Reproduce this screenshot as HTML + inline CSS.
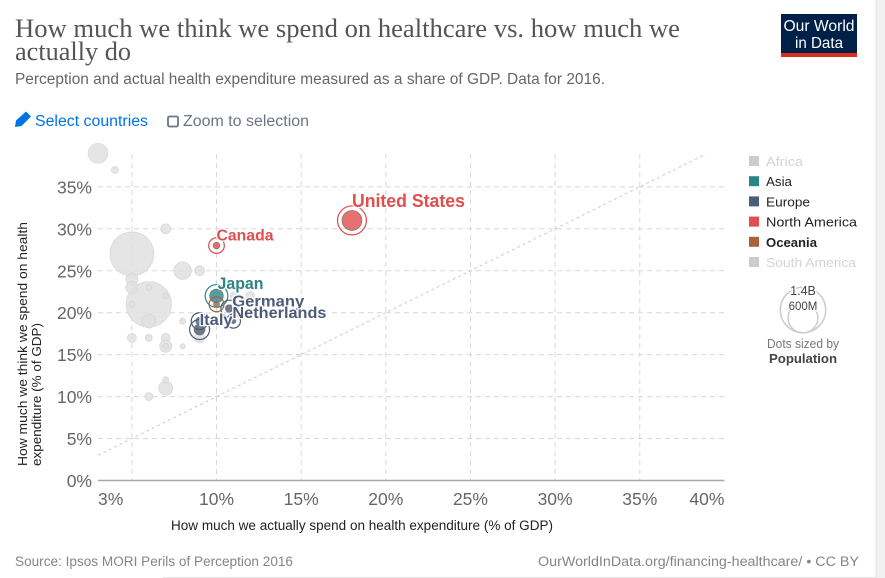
<!DOCTYPE html>
<html lang="en">
<head>
<meta charset="utf-8">
<title>How much we think we spend on healthcare vs. how much we actually do</title>
<style>
html,body{margin:0;padding:0;background:#fff;width:885px;height:578px;overflow:hidden}
svg{display:block;font-family:"Liberation Sans",sans-serif}
</style>
</head>
<body>
<svg id="chart" width="885" height="578" viewBox="0 0 885 578" xmlns="http://www.w3.org/2000/svg">
  <rect x="877" y="0" width="8" height="578" fill="#f1f1f1"/>
  <rect x="875.5" y="0" width="1.5" height="578" fill="#e6e6e6"/>
  <rect x="163" y="577" width="714" height="1" fill="#e6e6e6"/>

  <text x="15" y="37" font-family="'Liberation Serif',serif" font-size="26" fill="#555" textLength="665" lengthAdjust="spacingAndGlyphs">How much we think we spend on healthcare vs. how much we</text>
  <text x="15" y="60" font-family="'Liberation Serif',serif" font-size="26" fill="#555" textLength="116" lengthAdjust="spacingAndGlyphs">actually do</text>
  <text x="15" y="84" font-size="15.5" fill="#666" textLength="590" lengthAdjust="spacingAndGlyphs">Perception and actual health expenditure measured as a share of GDP. Data for 2016.</text>

  <g>
    <rect x="781" y="14" width="76" height="43" fill="#002147"/>
    <rect x="781" y="53" width="76" height="4" fill="#dc2e1c"/>
    <text x="819" y="31" font-size="16" fill="#fff" text-anchor="middle" textLength="71" lengthAdjust="spacingAndGlyphs">Our World</text>
    <text x="819" y="48" font-size="16" fill="#fff" text-anchor="middle" textLength="48" lengthAdjust="spacingAndGlyphs">in Data</text>
  </g>

  <g>
    <path d="M15 127 L16 120.5 L26 111.5 L31 116.5 L21.5 126 Z" fill="#0073e6"/>
    <text x="35" y="126" font-size="15.5" fill="#0073e6" textLength="113" lengthAdjust="spacingAndGlyphs">Select countries</text>
  </g>
  <g>
    <rect x="168" y="116.5" width="10" height="10" rx="1.5" fill="#fff" stroke="#6e7581" stroke-width="1.8"/>
    <text x="183" y="126" font-size="15.5" fill="#6e7581" textLength="126" lengthAdjust="spacingAndGlyphs">Zoom to selection</text>
  </g>

  <g id="grid"></g>
  <g id="axes"></g>
  <g id="marks"></g>
  <g id="labels"></g>
  <g id="legend"></g>

  <text transform="translate(27,466) rotate(-90)" font-size="13" fill="#222" textLength="244" lengthAdjust="spacingAndGlyphs">How much we think we spend on health</text>
  <text transform="translate(41,466) rotate(-90)" font-size="13" fill="#222" textLength="143" lengthAdjust="spacingAndGlyphs">expenditure (% of GDP)</text>
  <text x="171" y="530" font-size="13.5" fill="#222" textLength="382" lengthAdjust="spacingAndGlyphs">How much we actually spend on health expenditure (% of GDP)</text>

  <g>
    <circle cx="803" cy="310" r="22.7" fill="none" stroke="#ccc" stroke-width="1.5"/>
    <circle cx="803" cy="318" r="14.9" fill="none" stroke="#ccc" stroke-width="1.5"/>
    <text x="803" y="295" font-size="12.5" fill="#444" text-anchor="middle" stroke="#fff" stroke-width="3" paint-order="stroke">1.4B</text>
    <text x="803" y="310" font-size="11.5" fill="#444" text-anchor="middle" stroke="#fff" stroke-width="3" paint-order="stroke">600M</text>
    <text x="803" y="348" font-size="12.5" fill="#777" text-anchor="middle" textLength="72" lengthAdjust="spacingAndGlyphs">Dots sized by</text>
    <text x="803" y="363" font-size="13" font-weight="bold" fill="#444" text-anchor="middle" textLength="68" lengthAdjust="spacingAndGlyphs">Population</text>
  </g>

  <text x="15" y="566" font-size="13.5" fill="#858585" textLength="278" lengthAdjust="spacingAndGlyphs">Source: Ipsos MORI Perils of Perception 2016</text>
  <text x="538" y="566" font-size="13.5" fill="#858585" textLength="321" lengthAdjust="spacingAndGlyphs">OurWorldInData.org/financing-healthcare/ • CC BY</text>
</svg>
<script>
var xTickValues = [3, 5, 10, 15, 20, 25, 30, 35, 40];
var xTickLabels = ["3%", "", "10%", "15%", "20%", "25%", "30%", "35%", "40%"];
var yTickValues = [0, 5, 10, 15, 20, 25, 30, 35];
var yTickLabels = ["0%", "5%", "10%", "15%", "20%", "25%", "30%", "35%"];

var countryNames = ["", "", "", "", "", "", "", "", "", "", "", "", "", "", "", "", "", "", "", "", "", "", "", "", "", "", "", "Japan", "Germany", "Italy", "", "Netherlands", "Australia", "Canada", "United States"];
var continents = ["o","o","o","o","o","o","o","o","o","o","o","o","o","o","o","o","o","o","o","o","o","o","o","o","o","o","o","Asia","Europe","Europe","Europe","Europe","Oceania","North America","North America"];
var spendActual = [6, 5, 3, 8, 7, 9, 5, 5, 6, 7, 6, 5, 4, 8, 5, 6, 7, 7, 7, 8, 9, 9, 7, 7, 6, 11, 12, 10, 10.75, 9, 9, 11, 10, 10, 18];
var spendPerceived = [21, 27, 39, 25, 30, 25, 24, 23, 23, 22, 19, 21, 37, 19, 17, 17, 17, 16, 16, 16, 17, 18, 11, 12, 10, 22, 22, 22, 20.5, 19, 18, 19, 21, 28, 31];
var populations = [1400, 1310, 265, 208, 68, 68, 98, 98, 25, 25, 133, 25, 33, 25, 55, 33, 55, 98, 25, 17, 68, 68, 133, 25, 43, 33, 55, 127, 40, 40, 82, 17, 24, 30, 270];

var legendLabels = ["Africa", "Asia", "Europe", "North America", "Oceania", "South America"];

var svgNS = "http://www.w3.org/2000/svg";
var plotLeft = 98, plotRight = 724.4, plotBottom = 480.5;
var xMin = 3, xMax = 40, yMin = 0, yPerPercent = 8.39;
var colors = {"Africa":"#cccccc","Asia":"#2c8587","Europe":"#4c5c78","North America":"#e04e4e","Oceania":"#a8623c","South America":"#cccccc"};

function xScale(v){ return plotLeft + (v - xMin) * (plotRight - plotLeft) / (xMax - xMin); }
function yScale(v){ return plotBottom - (v - yMin) * yPerPercent; }
function rScale(p){ return 22.7 * Math.sqrt(p / 1400); }
function make(tag, attrs, parent){
  var el = document.createElementNS(svgNS, tag);
  for (var k in attrs) el.setAttribute(k, attrs[k]);
  parent.appendChild(el);
  return el;
}

var grid = document.getElementById("grid");
var axes = document.getElementById("axes");
var marks = document.getElementById("marks");
var labels = document.getElementById("labels");
var legend = document.getElementById("legend");
var plotTop = yScale(38.9);

yTickValues.forEach(function(v, i){
  if (v !== 0) {
    var g = make("line", {x1: plotLeft, x2: plotRight, y1: yScale(v), y2: yScale(v), stroke: "#d8d8d8", "stroke-dasharray": "5,4"}, grid);
    
    
  }
  var t = make("text", {x: 92, y: yScale(v) + 6.5, "text-anchor": "end", "font-size": 17.5, fill: "#666"}, axes);
  
  
  t.textContent = yTickLabels[i];
});

xTickValues.forEach(function(v, i){
  if (v !== xMin && v !== xMax) {
    var g = make("line", {x1: xScale(v), x2: xScale(v), y1: plotTop, y2: plotBottom, stroke: "#d8d8d8", "stroke-dasharray": "5,4"}, grid);
    
    
  }
  if (xTickLabels[i]) {
    var anchor = v === xMin ? "start" : (v === xMax ? "end" : "middle");
    var t = make("text", {x: xScale(v), y: 505, "text-anchor": anchor, "font-size": 17.5, fill: "#666"}, axes);
    
    
    t.textContent = xTickLabels[i];
  }
});

var diagonal = make("line", {x1: xScale(xMin), y1: yScale(xMin), x2: xScale(38.9), y2: yScale(38.9), stroke: "#ccc", "stroke-dasharray": "3,3"}, grid);



var xAxisLine = make("line", {x1: plotLeft, x2: plotRight, y1: plotBottom, y2: plotBottom, stroke: "#a8a8a8", "stroke-width": 1.5}, axes);



spendActual.forEach(function(v, i){
  var cx = xScale(v), cy = yScale(spendPerceived[i]), r = rScale(populations[i]);
  var c = colors[continents[i]];
  if (c) {
    var ring = make("circle", {cx: cx, cy: cy, r: r + 4.5, fill: "none", stroke: c, "stroke-width": 1.2}, marks);
    
    
  }
  var dot = make("circle", {cx: cx, cy: cy, r: r, fill: c || "#e0e0e0", "fill-opacity": c ? 0.8 : 0.85, stroke: c ? "#777" : "#d6d6d6", "stroke-width": 0.7}, marks);
  
  
});

function labelStyle(name){
  switch (name) {
    case "United States": return {dx: 0, dy: -13.5, size: 18, len: 113};
    case "Canada": return {dx: 0, dy: -5, size: 15.5, len: 57};
    case "Japan": return {dx: 1, dy: -7, size: 17, len: 46};
    case "Germany": return {dx: 3, dy: -2, size: 15.5, len: 72};
    case "Netherlands": return {dx: -1, dy: -3, size: 15.5, len: 94};
    case "Italy": return {dx: 0, dy: 4, size: 15.5, len: 33};
    default: return null;
  }
}
countryNames.forEach(function(name, i){
  var s = labelStyle(name);
  if (!s) return;
  var t = make("text", {x: xScale(spendActual[i]) + s.dx, y: yScale(spendPerceived[i]) + s.dy, "font-size": s.size, "font-weight": "bold", fill: colors[continents[i]], textLength: s.len, lengthAdjust: "spacingAndGlyphs", stroke: "#fff", "stroke-width": 2.5, "paint-order": "stroke"}, labels);
  
  
  t.textContent = name;
});

legendLabels.forEach(function(name, i){
  var cy = 161 + i * 20.2;
  var active = name !== "Africa" && name !== "South America";
  var sq = make("rect", {x: 749, y: cy - 5, width: 10, height: 10, fill: colors[name]}, legend);
  
  
  var lengths = {"Africa": 37, "Asia": 26, "Europe": 44, "North America": 91, "Oceania": 51, "South America": 90};
  var t = make("text", {x: 766, y: cy + 5, "font-size": 13, fill: active ? "#222" : "#d4d4d4", "font-weight": name === "Oceania" ? "bold" : "normal", textLength: lengths[name], lengthAdjust: "spacingAndGlyphs"}, legend);
  
  
  t.textContent = name;
});
</script>
</body>
</html>
